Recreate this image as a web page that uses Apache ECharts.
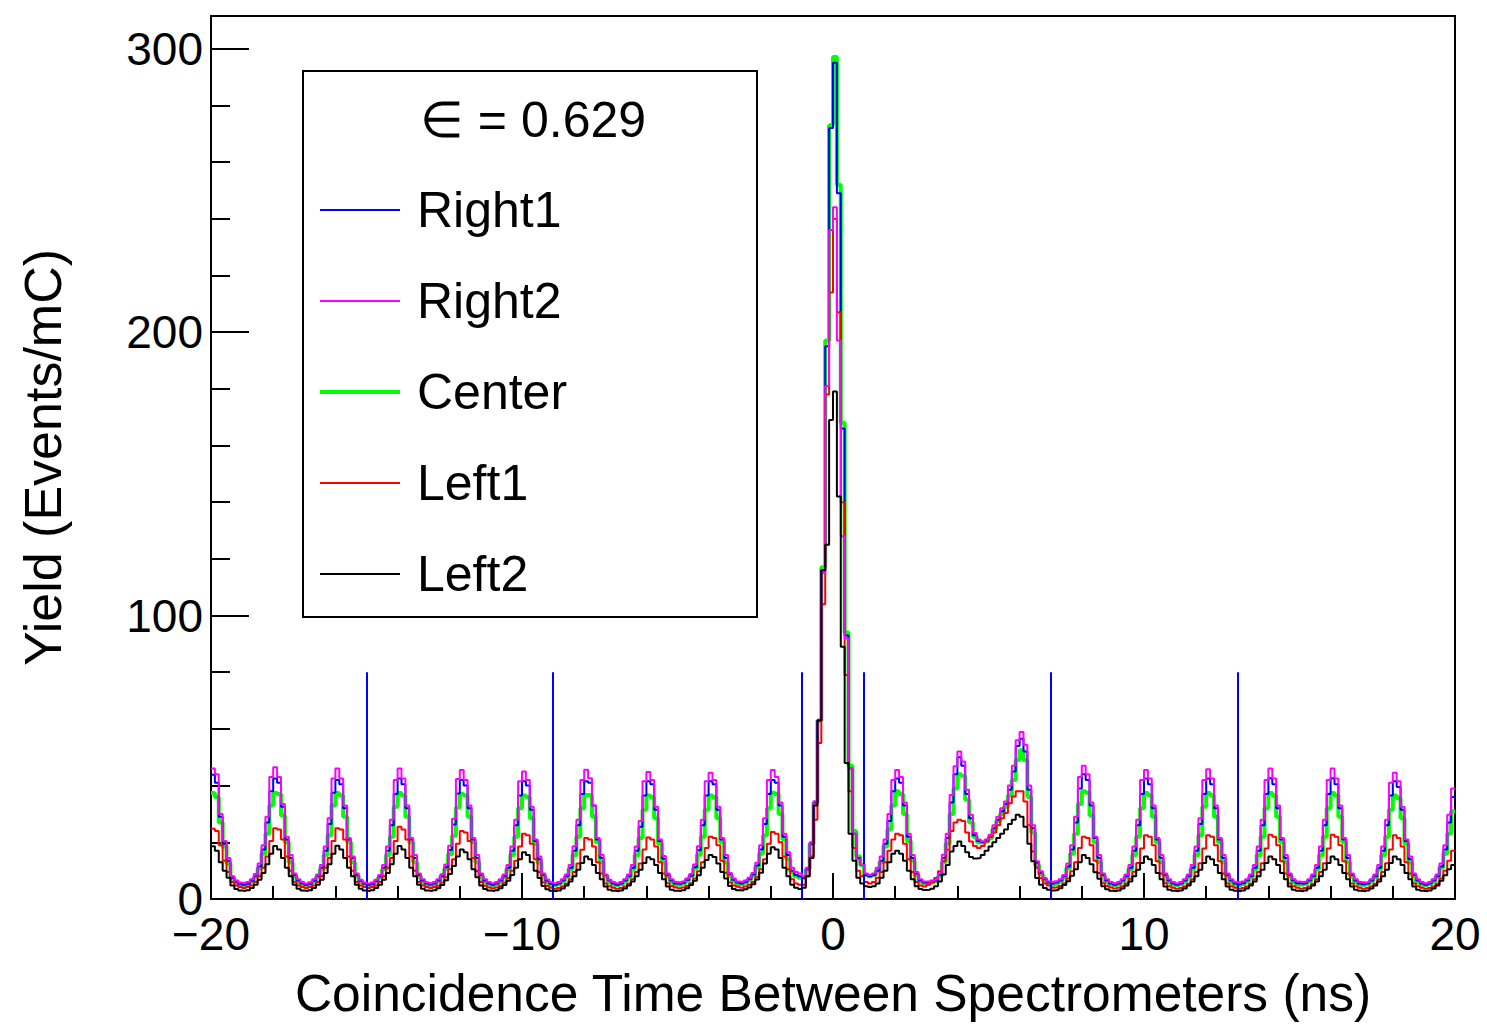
<!DOCTYPE html>
<html><head><meta charset="utf-8">
<script src="https://cdn.jsdelivr.net/npm/echarts@6/dist/echarts.min.js"></script>
<style>html,body{margin:0;padding:0;background:#fff}#c{width:1487px;height:1024px}</style>
</head><body><div id="c"></div>
<script>
// ---- histogram binning ----
const xMin = -20, xMax = 20, binWidth = 0.125;

// ---- bin contents (Events/mC), one row per 2 ns (16 bins) ----
const right1 = [
 43.8,41,29,19.5,13.5,7.5,6,5.3, 5,5.4,6.4,8,11.5,17.5,27,38,
 42.5,41,32.5,21,14.5,8.5,6.5,5.5, 5,5.4,6.4,8,11,17,26.5,37.5,
 42,40.5,32,21,14.5,8.5,6.4,5.4, 5,5.3,6.3,7.9,11,17,26,37,
 42.5,40.5,32,21,14.5,8.5,6.5,5.5, 5.1,5.5,6.5,8,11.2,17.3,26.3,37.2,
 42,40,32,21,14.5,8.5,6.5,5.5, 5,5.5,6.5,8,11,17,26,36.5,
 41.5,40,31.5,20.5,14,8.5,6.4,5.4, 5,5.5,6.5,8,11,17,26,37,
 41.5,41,33,21,14.5,8.5,6.5,5.5, 5,5.5,6.5,8,11,17,25.5,36.5,
 41.5,40.5,31.5,20.5,14.2,8.5,6.5,5.5, 5.3,5.7,6.7,8.2,11.2,17.2,26,36.5,
 41.5,40.5,31.5,21,14.5,8.8,6.8,5.8, 5.5,6,7,8.6,11.8,17.5,26.5,37,
 42,41,33,22,15.5,10,8.5,8, 7.5,10.5,19.5,34,63,116,195,272,
 295,249,166,93,46,23,14.5,12, 8.5,8,8.5,10,13.5,19.5,27.5,38,
 42.5,41,33,22,14.5,9,6.5,5.8, 5.8,6,6.5,8.5,14.5,21.5,34,44,
 50,47,37,28.5,22.5,20.5,20,20.5, 22,25,28,31,33.5,38.5,45,54,
 56.5,52,38.5,25,12.8,9.3,7,5.8, 5.5,5.8,6.5,8,11.5,17.5,27,39,
 44,42,33,21.5,14.5,8.5,6.5,5.5, 5,5.5,6.5,8,11,17,26,37,
 42.5,40.5,32,21,14.5,8.5,6.5,5.5, 5,5.5,6.5,8,11,17,26.5,37,
 42.5,40.5,32,21,14.5,8.5,6.5,5.5, 5.2,5.6,6.5,8,11,17,26,37,
 42.6,40.5,32,21,14.5,8.5,6.5,5.6, 5.4,5.6,6.5,8,11,17,26,37,
 42.6,40.5,32,21,14.5,8.5,6.5,5.5, 5.2,5.5,6.5,8,11,17,26,36.5,
 41.5,39.5,31.5,20.5,14,8.5,6.5,5.5, 5,5.5,6.5,8,11.5,17.5,27,36
];
const right2 = [
 46,44,30,20.5,14.5,8,6.5,5.8, 5.6,6,7,8.8,12.5,19,29,43,
 46.5,43,33.5,22,15.5,9,7,6, 5.5,5.9,7,8.6,12,18.5,28.5,42.5,
 46,42.5,33,21.5,15,9,6.8,5.8, 5.5,5.8,6.8,8.5,12,18.5,28,42,
 46,42.5,33,21.5,15.5,9,7,5.9, 5.6,6,7,8.7,12.2,18.8,28.3,42.3,
 45.5,42,33,21.5,15.5,9,7,6, 5.6,6,7,8.6,12,18.5,28,41.5,
 45,42,32.5,21,15,9,6.9,5.9, 5.6,6,7,8.6,12,18.6,28,42,
 45.6,42.6,33,21.5,15.6,8.6,6.8,6, 5.6,6,7,8.6,12,18.5,27.5,41.5,
 44.8,42,32.5,21,15.2,9,7,6, 5.8,6.2,7.2,8.8,12.2,18.6,28,41.5,
 44.5,42,32.5,21.5,15.5,9.2,7.2,6.2, 6,6.5,7.5,9.2,12.8,19,28.5,42,
 45.5,43,34,23,16.5,11,9.5,9, 8,11,20,34.5,63,115,181,236,
 244,197,128,92,46,23,14,12, 9,8.5,9,11,15,21,30,42,
 45.5,43,34,23,15.5,9.5,7,6.2, 6.2,6.5,7,9,15.6,23,36.7,46.8,
 52,48.5,38.5,29.7,23.3,21,20.3,21, 22.7,26,29,32,34.4,40,47,56,
 58.9,54.4,40,26,13.3,9.8,7.4,6.2, 6,6.3,7,8.5,12.5,19,29,43,
 47,44,34,22,15.5,9,7,6, 5.6,6,7,8.6,12,18.5,28,42,
 45.5,42.5,33,21.5,15.5,9,7,6, 5.6,6,7,8.6,12,18.5,28.5,42,
 45.8,42.5,33,21.5,15.5,9,7,6, 5.8,6.2,7,8.6,12,18.5,28,42,
 46,42.5,33,21.5,15.5,9,7,6.2, 6,6.2,7,8.6,12,18.5,28,42,
 46,42.5,33,21.5,15.5,9,7,6, 5.8,6,7,8.6,12,18.5,28,41,
 44.5,41.5,32.5,21,15,9,7,6, 5.6,6,7,8.6,12.5,19,29.7,39
];
const center = [
 37.4,36,27,18.5,12.5,7.5,5.8,5, 4.8,5.2,6.2,7.8,10.8,16,23,33,
 37.4,37,29.5,20,13,8,6,5, 4.8,5.2,6.2,7.8,10.5,15.5,22.5,33,
 37.4,36.5,29,20,13,8,6,5, 4.8,5.1,6.1,7.7,10.5,15.5,22,32.5,
 37.4,36.5,29,20,13,8,6,5, 4.9,5.3,6.3,7.9,10.7,15.8,22.3,32.3,
 37,36.5,29,20,13,8,6,5, 4.8,5.2,6.2,7.8,10.5,15.5,22,32,
 36.5,36,28.5,19.5,12.8,8,6,5, 4.8,5.2,6.2,7.8,10.5,15.5,22,32,
 36.7,36.7,29,20,13,8,6,5, 4.8,5.2,6.2,7.8,10.5,15.5,21.5,31.5,
 36.5,36,28.5,19.5,12.8,8,6,5, 5,5.4,6.4,8,10.8,15.7,22,31.5,
 36.5,36,28.5,20,13,8.2,6.3,5.3, 5.2,5.7,6.8,8.3,11.2,16,22.5,32,
 37.5,37,30,21,14,9.5,8,7.5, 7.5,10.5,19.5,34,63,117,197,273,
 297,252,168,94,47,24,15,12, 8.5,8,8.5,10,13,18.5,24.5,33,
 38,37,30,20.5,13.5,8.5,6.2,5.5, 5.5,5.8,6.2,8,13,19.5,30,39,
 44,43.5,35,27,22,20,19.8,20.3, 21.5,24.5,27.5,30,32.5,36.5,42,49,
 52.5,49,36,23.5,12,8.8,6.5,5.5, 5,5.4,6.2,7.6,10.8,16,23,33.5,
 38,37.5,29.5,20,13,8,6,5, 4.8,5.2,6.2,7.8,10.5,15.5,22,32,
 37.4,36.5,29,20,13,8,6,5, 4.8,5.2,6.2,7.8,10.5,15.5,22.5,32.5,
 37.4,36.5,29,20,13,8,6,5, 4.9,5.3,6.2,7.8,10.5,15.5,22,32,
 37.4,36.5,29,20,13,8,6,5.1, 5,5.3,6.2,7.8,10.5,15.5,22,32,
 37.4,36.5,29,20,13,8,6,5, 4.9,5.2,6.2,7.8,10.5,15.5,22,31.5,
 36.5,35.5,28.5,19.5,12.8,8,6,5, 4.8,5.2,6.2,7.8,11,16,23,31
];
const left1 = [
 24.8,24,19,13.5,9.5,6,4.8,4.2, 3.9,4.2,4.8,6,8,11,15,20.5,
 25,24.5,21,15,10,6,4.8,4.2, 3.9,4.2,4.8,6,8,11,14.5,20.5,
 25,24.5,21,15,10,6,4.8,4.2, 3.9,4.2,4.8,6,8,11,14.5,20.5,
 25.5,24.5,21,15,10,6,4.8,4.2, 3.9,4.2,4.7,5.8,7.7,10.5,14,19.5,
 24,23.5,20.5,14.5,9.8,6,4.7,4.1, 3.8,4.1,4.6,5.7,7.4,10,13.5,18.5,
 23,22.5,19.5,14,9.5,5.8,4.6,4, 3.6,3.9,4.4,5.4,7,9.5,12.5,17.4,
 21.5,21,18.5,13,9,5.5,4.5,4, 3.6,3.9,4.4,5.4,7,9.5,12.5,17.5,
 21.7,21,18.5,13,9,5.6,4.6,4.1, 3.8,4.1,4.6,5.6,7.2,9.8,13,18,
 22,21.5,19,13.5,9.3,5.8,4.8,4.3, 4,4.4,5,6,7.8,10.5,14,19.5,
 23.6,23,20,15,10.5,7,5.5,5, 5,8,15,28,55,104,178,214,
 240,207,140,79,38,18,10,8, 6,5.5,6,7.5,9.5,13,17,21,
 23,22.5,19.5,14,9.5,6,4.8,4.4, 5,6,7.4,9.8,13.3,17.4,24,27,
 28,27.5,23.5,20.3,18.7,18,18.7,20.3, 22,23.5,26,28.5,30.3,33.8,36.2,38,
 38,34.4,26,16.8,11,7.4,5.5,4.8, 4,4.2,4.6,5.5,7.2,9.8,13,18,
 22,21.5,19,13.5,9.2,5.6,4.6,4.1, 3.7,4,4.5,5.5,7.1,9.6,12.7,17.8,
 22.5,22,19,13.3,9,5.6,4.5,4, 3.6,3.9,4.4,5.4,7,9.5,12.6,17.8,
 22.5,22,19,13.3,9,5.5,4.5,4, 3.6,3.9,4.4,5.4,7,9.5,12.6,17.8,
 22.7,22,19,13.3,9,5.5,4.5,4, 3.6,3.9,4.4,5.4,7,9.5,12.6,17.8,
 22.7,22,19,13.3,9,5.5,4.5,4, 3.6,3.9,4.4,5.4,7,9.5,12.6,17.5,
 22.5,21.5,18.5,13,9,5.5,4.5,4, 3.6,3.9,4.4,5.4,7.2,10,13.5,17
];
const left2 = [
 18.6,17,13,10,7.5,4.8,3.5,3, 2.8,3.1,3.9,5,6.8,9.2,12.3,16,
 18.7,17.5,14.5,11,8,5,3.6,3, 2.8,3.1,3.9,5,6.8,9.2,12.3,16,
 18.8,17.5,14.5,11,8,5,3.6,3, 2.8,3.1,3.9,5,6.8,9.2,12.3,16,
 18.7,17.5,14.5,11,8,5,3.6,3, 2.8,3.1,3.8,4.9,6.6,8.8,11.6,15,
 17.5,16.5,14,10.5,7.7,4.8,3.5,3, 2.8,3.1,3.8,4.9,6.4,8.5,11,14,
 16.5,15.5,13,10,7.4,4.6,3.4,2.9, 2.7,3,3.7,4.8,6.2,8,10.3,12.7,
 15,14,12,9.2,7,4.4,3.3,2.9, 2.7,3,3.7,4.8,6.2,8,10.3,12.7,
 14.7,14,12,9.2,7,4.4,3.3,2.9, 2.8,3.1,3.8,4.9,6.4,8.4,11,13.8,
 15.5,14.8,12.5,9.5,7.2,4.6,3.5,3.1, 3,3.4,4.1,5.2,6.9,9.3,12.5,16,
 18.3,17.5,14.5,11,8,5,4,3.5, 4,8,14.5,33,63,116,125,169,
 179,142,89,48,23,13.5,7.5,5.5, 4.5,4.2,4.5,5.5,7.5,10,13,16,
 17,16,13.5,10,7,4.5,3.5,3.2, 3.3,3.6,4.5,6.2,8.6,12,16.8,18.7,
 20.3,18.7,16.5,14.8,14.3,14.5,15.5,17, 18.5,20,21.5,23,24.5,26.5,28,29.7,
 29,25.5,19.5,13.3,7.4,5,3.9,3.3, 3,3.2,3.8,4.9,6.3,8.2,10.5,13,
 15.5,14.5,12.3,9.4,7.1,4.5,3.4,2.9, 2.7,3,3.7,4.8,6.2,8,10.3,12.7,
 15,14,12,9.2,7,4.4,3.3,2.9, 2.7,3,3.7,4.8,6.2,8,10.3,12.7,
 15,14,12,9.2,7,4.4,3.3,2.9, 2.7,3,3.7,4.8,6.2,8,10.3,12.7,
 15,14,12,9.2,7,4.4,3.3,2.9, 2.7,3,3.7,4.8,6.2,8,10.3,12.7,
 15,14,12,9.2,7,4.4,3.3,2.9, 2.7,3,3.7,4.8,6.2,8,10.3,12.7,
 15,14,12,9.2,7,4.4,3.3,2.9, 2.7,3,3.7,4.8,6.4,8.4,10.5,12
];

// ---- vertical cut markers ----
const cutPositions = [-15, -9, -1, 1, 7, 13];
const cutHeight = 80;

// ---- axes / texts ----
const yMajorTicks = [0, 100, 200, 300];
const yMinorTicks = [20, 40, 60, 80, 120, 140, 160, 180, 220, 240, 260, 280];
const yMax = 311.5;
const legendNames = ['Right1', 'Right2', 'Center', 'Left1', 'Left2'];
const legendTitle = '\u2208 = 0.629';
const xTitle = 'Coincidence Time Between Spectrometers (ns)';
const yTitle = 'Yield (Events/mC)';

const FONT = '"Liberation Sans", Arial, Helvetica, sans-serif';
const THIN_ICON = 'path://M0,0h80v0.001h-80z M0,4h80v2h-80z M0,9.999h80v0.001h-80z';
const THICK_ICON = 'path://M0,0h80v0.001h-80z M0,3h80v4h-80z M0,9.999h80v0.001h-80z';

function toSteps(vals) {
  const pts = vals.map((v, i) => [xMin + i * binWidth, v]);
  pts.push([xMax, vals[vals.length - 1]]);
  return pts;
}
function histSeries(name, vals, color, width, z) {
  return {
    name: name, type: 'line', step: 'end', data: toSteps(vals),
    symbol: 'none', showSymbol: false, z: z,
    lineStyle: { color: color, width: width }, itemStyle: { color: color },
    xAxisIndex: 0, yAxisIndex: 0, animation: false
  };
}

const chart = echarts.init(document.getElementById('c'), null, { renderer: 'svg' });
chart.setOption({
  animation: false,
  backgroundColor: '#fff',
  textStyle: { fontFamily: FONT },
  grid: { left: 211, right: 32, top: 16, bottom: 122, show: true, borderColor: '#000', borderWidth: 2, backgroundColor: 'transparent' },
  xAxis: [{
    type: 'value', min: xMin, max: xMax, interval: 10,
    axisLine: { onZero: false, lineStyle: { color: '#000', width: 2 } },
    axisTick: { inside: true, length: 26, lineStyle: { color: '#000', width: 2 } },
    minorTick: { show: true, splitNumber: 5, length: 13, lineStyle: { color: '#000', width: 2 } },
    splitLine: { show: false }, minorSplitLine: { show: false },
    axisLabel: { fontSize: 46, color: '#000', fontFamily: FONT, margin: 12,
      formatter: v => String(v).replace('-', '\u2212') },
    name: xTitle, nameLocation: 'middle', nameGap: 68,
    nameTextStyle: { fontSize: 51.5, color: '#000', fontFamily: FONT }
  }],
  yAxis: [{
    type: 'value', min: 0, max: yMax,
    axisLine: { show: true, onZero: false, lineStyle: { color: '#000', width: 2 } },
    axisTick: { show: true, inside: true, length: 38, customValues: yMajorTicks, lineStyle: { color: '#000', width: 2 } },
    axisLabel: { fontSize: 46, color: '#000', fontFamily: FONT, margin: 8, customValues: yMajorTicks },
    splitLine: { show: false },
    name: yTitle, nameLocation: 'middle', nameGap: 142, nameRotate: 90,
    nameTextStyle: { fontSize: 52, color: '#000', fontFamily: FONT }
  }, {
    type: 'value', min: 0, max: yMax, position: 'left',
    axisLine: { show: false, onZero: false },
    axisTick: { show: true, inside: true, length: 19, customValues: yMinorTicks, lineStyle: { color: '#000', width: 2 } },
    axisLabel: { show: false }, splitLine: { show: false }
  }],
  legend: {
    data: legendNames.map(n => ({ name: n, icon: n === 'Center' ? THICK_ICON : THIN_ICON })),
    orient: 'vertical', left: 320, top: 185, padding: 0,
    itemWidth: 80, itemHeight: 10, itemGap: 41,
    selectedMode: false, z: 10,
    textStyle: { fontSize: 50, color: '#000', fontFamily: FONT, lineHeight: 50, padding: [0, 0, 0, 12] }
  },
  graphic: [
    { type: 'rect', z: 5, shape: { x: 303, y: 71, width: 454, height: 546 },
      style: { fill: '#fff', stroke: '#000', lineWidth: 2 } },
    { type: 'text', z: 6, x: 533, y: 120,
      style: { text: legendTitle, font: '50px ' + FONT, fill: '#000', align: 'center', verticalAlign: 'middle' } }
  ],
  series: [
    histSeries('Center', center, '#00ff00', 4, 2),
    histSeries('Right1', right1, '#0000ff', 2, 3),
    histSeries('Left1', left1, '#ff0000', 2, 4),
    histSeries('Right2', right2, '#ff00ff', 2, 5),
    histSeries('Left2', left2, '#000000', 2, 6),
    {
      name: 'cuts', type: 'line', data: [], symbol: 'none', z: 7,
      markLine: {
        silent: true, symbol: 'none', animation: false, label: { show: false },
        lineStyle: { color: '#0000ff', width: 2, type: 'solid' },
        data: cutPositions.map(x => [{ coord: [x, 0] }, { coord: [x, cutHeight] }])
      }
    }
  ]
});
</script>
</body></html>
